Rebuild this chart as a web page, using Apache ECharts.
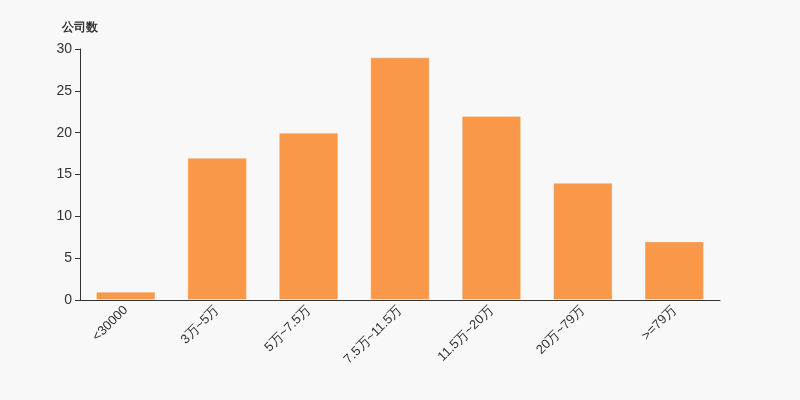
<!DOCTYPE html>
<html><head><meta charset="utf-8">
<script src="https://cdn.jsdelivr.net/npm/echarts@6/dist/echarts.min.js"></script>
<style>html,body{margin:0;padding:0;background:#f8f8f8}#c{width:800px;height:400px}</style>
</head><body><div id="c"></div>
<script>
var categories = ['<30000','3万~5万','5万~7.5万','7.5万~11.5万','11.5万~20万','20万~79万','>=79万'];
var values = [1,17,20,29,22,14,7];
var chart = echarts.init(document.getElementById('c'));
chart.setOption({
  backgroundColor:'#f8f8f8',
  animation:false,
  grid:{left:80,right:80,top:49,bottom:100},
  xAxis:{type:'category',data:categories,
    axisLine:{lineStyle:{color:'#333'}},
    axisTick:{lineStyle:{color:'#333'}},
    axisLabel:{rotate:45,color:'#333',fontSize:13,interval:0,fontFamily:'sans-serif'}},
  yAxis:{type:'value',name:'公司数',min:0,max:30,interval:5,
    nameTextStyle:{color:'#333',fontWeight:'bold',fontSize:12,align:'center',padding:[0,0,0,0]},
    nameGap:15,
    axisLine:{show:true,lineStyle:{color:'#333'}},
    axisTick:{show:true,lineStyle:{color:'#333'}},
    splitLine:{show:false},
    axisLabel:{color:'#333',fontSize:14}},
  series:[{type:'bar',data:values,barWidth:'65%',
    itemStyle:{color:'#f89848',borderColor:'rgba(255,255,255,0.3)',borderWidth:1}}]
});
</script></body></html>
